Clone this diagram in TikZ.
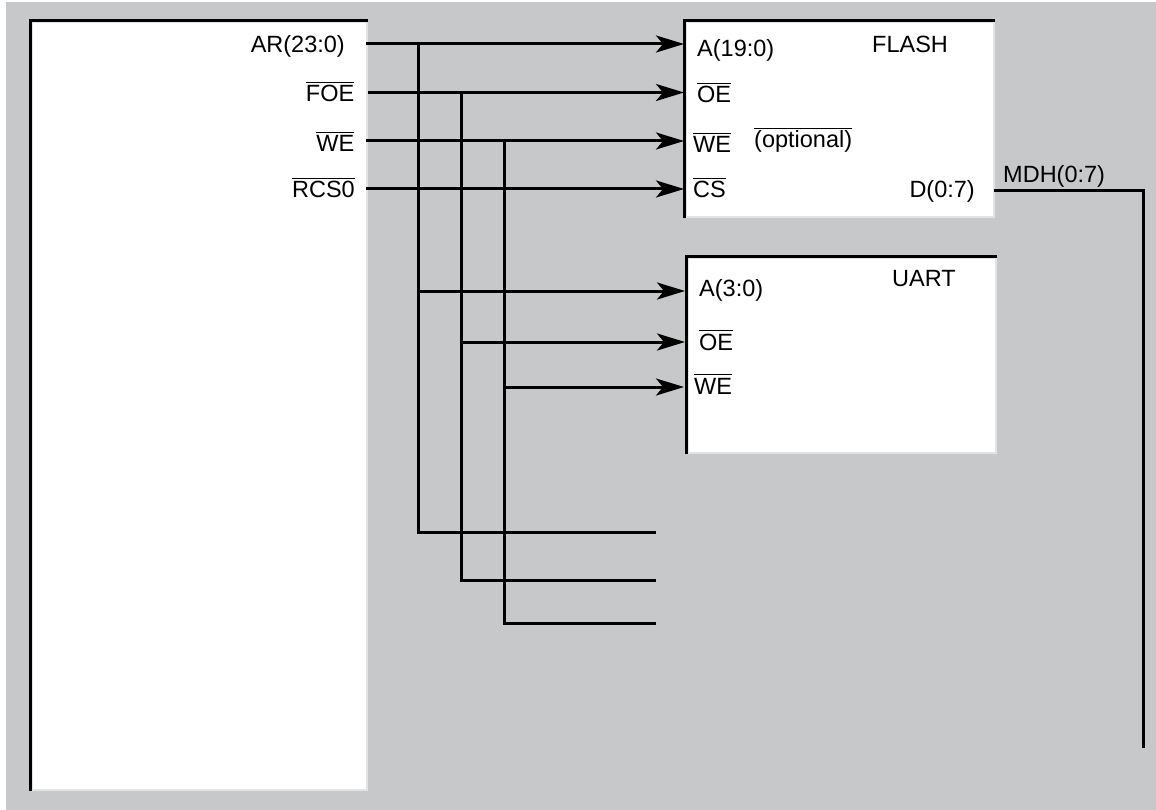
\documentclass[tikz,border=0pt]{standalone}
\usepackage{xcolor}
\usepackage{fontspec}
\usepackage{tikz}
\usetikzlibrary{arrows.meta}
\setmainfont{Liberation Sans}
\definecolor{panelcol}{HTML}{C7C8CA}
\definecolor{blockedge}{HTML}{E2E3E4}
\newcommand{\barsig}[1]{$\overline{\mbox{#1\rule{0pt}{18.5pt}}}$}

\begin{document}
\begin{tikzpicture}[x=1pt, y=-1pt, >={Stealth[length=28pt, width=17pt, inset=7pt]},
    wire/.style={line width=3pt},
    edgeline/.style={line width=3pt},
    blockbox/.style={draw=blockedge, fill=white, line width=2.4pt, inner sep=0pt, anchor=north west},
    sigtext/.style={inner sep=0pt, font=\fontsize{23.5}{26}\selectfont}]

    % ── Panel ─────────────────────────────────────────────────────────────────
    \useasboundingbox (0,0) rectangle (1156,810);
    \fill[panelcol] (6,2) rectangle (1156,810);

    % ── Blocks ────────────────────────────────────────────────────────────────
    \node[blockbox, minimum width=335pt, minimum height=768pt] (cpu) at (30.5,21) {};
    \node[blockbox, minimum width=308.5pt, minimum height=195pt] (flash) at (684.5,21) {};
    \node[blockbox, minimum width=308.5pt, minimum height=195pt] (uart) at (686.5,256.5) {};
    \draw[edgeline] (cpu.south west) -- (cpu.north west) -- (cpu.north east);
    \draw[edgeline] (flash.south west) -- (flash.north west) -- (flash.north east);
    \draw[edgeline] (uart.south west) -- (uart.north west) -- (uart.north east);

    % ── Pins ──────────────────────────────────────────────────────────────────
    \coordinate (arpin) at (366,44);
    \coordinate (foepin) at (368,92.5);
    \coordinate (wepin) at (366,141);
    \coordinate (rcspin) at (366,189);
    \coordinate (flasha) at (684,44);
    \coordinate (flashoe) at (684,92.5);
    \coordinate (flashwe) at (684,141);
    \coordinate (flashcs) at (684,189);
    \coordinate (flashd) at (994,190.5);
    \coordinate (uarta) at (685,291);
    \coordinate (uartoe) at (685,342);
    \coordinate (uartwe) at (684,387);

    % ── Bus ends ──────────────────────────────────────────────────────────────
    \coordinate (arbus) at (418,532);
    \coordinate (foebus) at (461.5,580);
    \coordinate (webus) at (504,623);
    \coordinate (arend) at (656,532);
    \coordinate (foeend) at (656,580);
    \coordinate (weend) at (656,623);
    \coordinate (mdhturn) at (1143,190.5);
    \coordinate (mdhend) at (1143,748);

    % ── Signals to FLASH ──────────────────────────────────────────────────────
    \draw[wire, ->] (arpin) -- (flasha);
    \draw[wire, ->] (foepin) -- (flashoe);
    \draw[wire, ->] (wepin) -- (flashwe);
    \draw[wire, ->] (rcspin) -- (flashcs);

    % ── Buses going down ──────────────────────────────────────────────────────
    \draw[wire] (arpin -| arbus) -- (arbus) -- (arend);
    \draw[wire] (foepin -| foebus) -- (foebus) -- (foeend);
    \draw[wire] (wepin -| webus) -- (webus) -- (weend);

    % ── Signals to UART ───────────────────────────────────────────────────────
    \draw[wire, ->] (uarta -| arbus) -- (uarta);
    \draw[wire, ->] (uartoe -| foebus) -- (uartoe);
    \draw[wire, ->] (uartwe -| webus) -- (uartwe);

    % ── Data line ─────────────────────────────────────────────────────────────
    \draw[wire] (flashd) -- (mdhturn) -- (mdhend);

    % ── Left block labels ─────────────────────────────────────────────────────
    \node[sigtext, anchor=base east] (arlabel) at (345,53) {AR(23:0)};
    \node[sigtext, anchor=base east] (foelabel) at (354.5,102) {\barsig{FOE}};
    \node[sigtext, anchor=base east] (welabel) at (354.5,152) {\barsig{WE}};
    \node[sigtext, anchor=base east] (rcslabel) at (355,198) {\barsig{RCS0}};

    % ── FLASH labels ──────────────────────────────────────────────────────────
    \node[sigtext, anchor=base west] (flashname) at (872,53) {FLASH};
    \node[sigtext, anchor=base west] (flashalabel) at (697,57) {A(19:0)};
    \node[sigtext, anchor=base west] (flashoelabel) at (697,103) {\barsig{OE}};
    \node[sigtext, anchor=base west] (flashwelabel) at (693,153) {\barsig{WE}};
    \node[sigtext, anchor=base west] (optlabel) at (754,148) {\barsig{(optional)}};
    \node[sigtext, anchor=base west] (flashcslabel) at (693,198) {\barsig{CS}};
    \node[sigtext, anchor=base east] (flashdlabel) at (975,198) {D(0:7)};
    \node[sigtext, anchor=base west] (mdhlabel) at (1003,183) {MDH(0:7)};

    % ── UART labels ───────────────────────────────────────────────────────────
    \node[sigtext, anchor=base west] (uartname) at (892,287) {UART};
    \node[sigtext, anchor=base west] (uartalabel) at (699,297) {A(3:0)};
    \node[sigtext, anchor=base west] (uartoelabel) at (699,350) {\barsig{OE}};
    \node[sigtext, anchor=base west] (uartwelabel) at (694,394) {\barsig{WE}};

\end{tikzpicture}
\end{document}
